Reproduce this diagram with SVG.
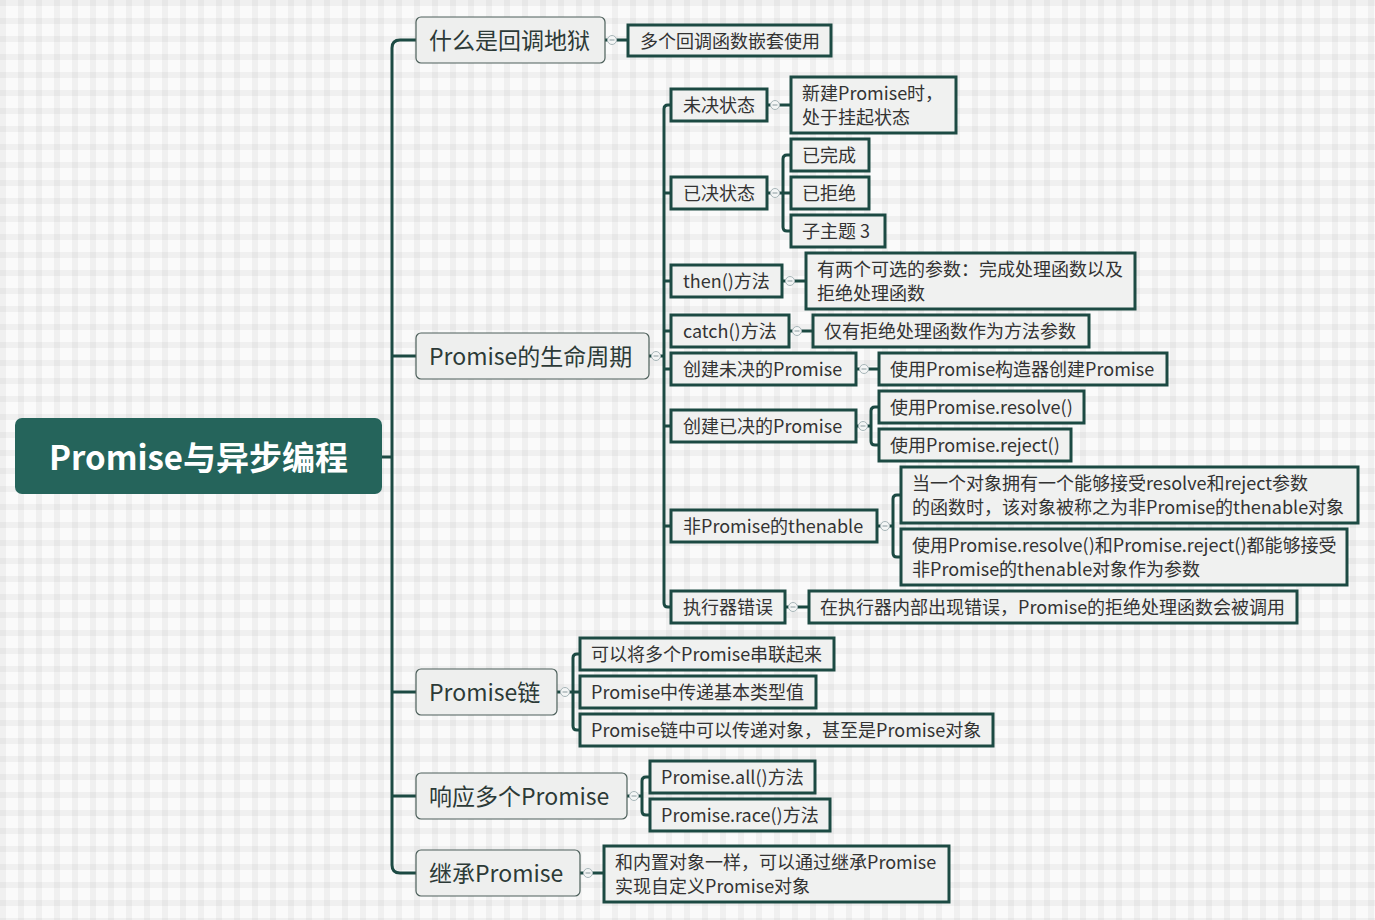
<svg xmlns="http://www.w3.org/2000/svg" width="1375" height="920" viewBox="0 0 1375 920">
<defs>
<pattern id="bg" x="0" y="0" width="18" height="18" patternUnits="userSpaceOnUse">
<rect width="18" height="18" fill="#fafafa"/>
<rect x="0" y="0" width="6" height="18" fill="#000" fill-opacity="0.04"/>
<rect x="0" y="0" width="18" height="6" fill="#000" fill-opacity="0.04"/>
</pattern>
</defs>
<style>
.root rect{fill:#25645b}
.root text{fill:#ffffff;font-family:"Noto Sans CJK SC","Noto Sans",sans-serif;font-size:33px;font-weight:bold}
.l1 rect{fill:#eeefee;stroke:#4c5f5a;stroke-width:1.2}
.l1 text{fill:#2c3a37;font-family:"Noto Sans CJK SC","Noto Sans",sans-serif;font-size:23px}
.l2 rect{fill:#f0f1f0;stroke:#1c4a43;stroke-width:3}
.l2 text{fill:#333;font-family:"Noto Sans CJK SC","Noto Sans",sans-serif;font-size:18px}
.conn path{fill:none;stroke:#1c4a43;stroke-width:3}
.tog circle{fill:#f4f6f6;stroke:#a7b5b8;stroke-width:1}
.tog path{stroke:#8a9a9e;stroke-width:1;fill:none}
</style>
<rect width="1375" height="920" fill="url(#bg)"/>

<g id="connectors" class="conn">
<path d="M382,457 H392"/>
<path d="M416,40 H400 Q392,40 392,48 V865 Q392,873 400,873 H416"/>
<path d="M392,356 H416"/>
<path d="M392,692 H416"/>
<path d="M392,796 H416"/>
<path d="M605,40 H628"/>
<path d="M649,356 H664"/>
<path d="M671,105 H668 Q664,105 664,109 V603 Q664,607 668,607 H671"/>
<path d="M664,193 H671 M664,281 H671 M664,331 H671 M664,369 H671 M664,426 H671 M664,526 H671"/>
<path d="M767,105 H791"/>
<path d="M767,193 H791"/>
<path d="M791,155 H787 Q783,155 783,159 V227 Q783,231 787,231 H791"/>
<path d="M782,281 H806"/>
<path d="M789,331 H813"/>
<path d="M856,369 H879"/>
<path d="M856,426 H871"/>
<path d="M879,407 H875 Q871,407 871,411 V441 Q871,445 875,445 H879"/>
<path d="M877,526 H893"/>
<path d="M901,495 H897 Q893,495 893,499 V553 Q893,557 897,557 H901"/>
<path d="M785,607 H809"/>
<path d="M557,692 H580"/>
<path d="M580,654 H577 Q573,654 573,658 V726 Q573,730 577,730 H580"/>
<path d="M627,796 H642"/>
<path d="M650,777 H646 Q642,777 642,781 V811 Q642,815 646,815 H650"/>
<path d="M580,873 H604"/>
</g>

<g id="toggles" class="tog">
<circle cx="612" cy="40" r="4.5"/><path d="M609.5,40 H614.5"/>
<circle cx="656" cy="356" r="4.5"/><path d="M653.5,356 H658.5"/>
<circle cx="775" cy="105" r="4.5"/><path d="M772.5,105 H777.5"/>
<circle cx="775" cy="193" r="4.5"/><path d="M772.5,193 H777.5"/>
<circle cx="790" cy="281" r="4.5"/><path d="M787.5,281 H792.5"/>
<circle cx="797" cy="331" r="4.5"/><path d="M794.5,331 H799.5"/>
<circle cx="864" cy="369" r="4.5"/><path d="M861.5,369 H866.5"/>
<circle cx="863" cy="426" r="4.5"/><path d="M860.5,426 H865.5"/>
<circle cx="885" cy="526" r="4.5"/><path d="M882.5,526 H887.5"/>
<circle cx="793" cy="607" r="4.5"/><path d="M790.5,607 H795.5"/>
<circle cx="565" cy="692" r="4.5"/><path d="M562.5,692 H567.5"/>
<circle cx="634" cy="796" r="4.5"/><path d="M631.5,796 H636.5"/>
<circle cx="588" cy="873" r="4.5"/><path d="M585.5,873 H590.5"/>
</g>

<g id="root" class="root"><rect x="15" y="418" width="367" height="76" rx="7"/><text x="198.5" y="456" text-anchor="middle" dominant-baseline="central">Promise与异步编程</text></g>

<g id="n-callback-hell" class="l1"><rect x="416" y="17" width="189" height="46" rx="5"/><text x="429" y="39" dominant-baseline="central">什么是回调地狱</text></g>
<g id="n-lifecycle" class="l1"><rect x="416" y="333" width="233" height="46" rx="5"/><text x="429" y="355" dominant-baseline="central">Promise的生命周期</text></g>
<g id="n-chain" class="l1"><rect x="416" y="669" width="141" height="46" rx="5"/><text x="429" y="691" dominant-baseline="central">Promise链</text></g>
<g id="n-multi" class="l1"><rect x="416" y="773" width="211" height="46" rx="5"/><text x="429" y="795" dominant-baseline="central">响应多个Promise</text></g>
<g id="n-inherit" class="l1"><rect x="416" y="850" width="164" height="46" rx="5"/><text x="429" y="872" dominant-baseline="central">继承Promise</text></g>

<g id="n-nested" class="l2"><rect x="628" y="25" width="203" height="31"/><text x="640" y="39.5" dominant-baseline="central">多个回调函数嵌套使用</text></g>

<g id="n-pending" class="l2"><rect x="671" y="89" width="96" height="32"/><text x="683" y="104" dominant-baseline="central">未决状态</text></g>
<g id="n-pending-desc" class="l2"><rect x="791" y="77" width="165" height="56"/><text x="802" y="92" dominant-baseline="central">新建Promise时，</text><text x="802" y="116" dominant-baseline="central">处于挂起状态</text></g>
<g id="n-settled" class="l2"><rect x="671" y="177" width="96" height="32"/><text x="683" y="192" dominant-baseline="central">已决状态</text></g>
<g id="n-fulfilled" class="l2"><rect x="791" y="139" width="78" height="32"/><text x="802" y="154" dominant-baseline="central">已完成</text></g>
<g id="n-rejected" class="l2"><rect x="791" y="177" width="78" height="32"/><text x="802" y="192" dominant-baseline="central">已拒绝</text></g>
<g id="n-topic3" class="l2"><rect x="791" y="215" width="94" height="32"/><text x="802" y="230" dominant-baseline="central">子主题 3</text></g>
<g id="n-then" class="l2"><rect x="671" y="265" width="111" height="32"/><text x="683" y="280" dominant-baseline="central">then()方法</text></g>
<g id="n-then-desc" class="l2"><rect x="806" y="253" width="329" height="56"/><text x="817" y="268" dominant-baseline="central">有两个可选的参数：完成处理函数以及</text><text x="817" y="292" dominant-baseline="central">拒绝处理函数</text></g>
<g id="n-catch" class="l2"><rect x="671" y="315" width="118" height="32"/><text x="683" y="330" dominant-baseline="central">catch()方法</text></g>
<g id="n-catch-desc" class="l2"><rect x="813" y="315" width="276" height="32"/><text x="824" y="330" dominant-baseline="central">仅有拒绝处理函数作为方法参数</text></g>
<g id="n-create-pending" class="l2"><rect x="671" y="353" width="185" height="32"/><text x="683" y="368" dominant-baseline="central">创建未决的Promise</text></g>
<g id="n-constructor" class="l2"><rect x="879" y="353" width="288" height="32"/><text x="890" y="368" dominant-baseline="central">使用Promise构造器创建Promise</text></g>
<g id="n-create-settled" class="l2"><rect x="671" y="410" width="185" height="32"/><text x="683" y="425" dominant-baseline="central">创建已决的Promise</text></g>
<g id="n-resolve" class="l2"><rect x="879" y="391" width="205" height="32"/><text x="890" y="406" dominant-baseline="central">使用Promise.resolve()</text></g>
<g id="n-reject" class="l2"><rect x="879" y="429" width="192" height="32"/><text x="890" y="444" dominant-baseline="central">使用Promise.reject()</text></g>
<g id="n-thenable" class="l2"><rect x="671" y="510" width="206" height="32"/><text x="683" y="525" dominant-baseline="central">非Promise的thenable</text></g>
<g id="n-thenable-def" class="l2"><rect x="901" y="467" width="457" height="56"/><text x="912" y="482" dominant-baseline="central">当一个对象拥有一个能够接受resolve和reject参数</text><text x="912" y="506" dominant-baseline="central">的函数时，该对象被称之为非Promise的thenable对象</text></g>
<g id="n-thenable-use" class="l2"><rect x="901" y="529" width="446" height="56"/><text x="912" y="544" dominant-baseline="central">使用Promise.resolve()和Promise.reject()都能够接受</text><text x="912" y="568" dominant-baseline="central">非Promise的thenable对象作为参数</text></g>
<g id="n-executor-error" class="l2"><rect x="671" y="591" width="114" height="32"/><text x="683" y="606" dominant-baseline="central">执行器错误</text></g>
<g id="n-executor-desc" class="l2"><rect x="809" y="591" width="488" height="32"/><text x="820" y="606" dominant-baseline="central">在执行器内部出现错误，Promise的拒绝处理函数会被调用</text></g>

<g id="n-chain-1" class="l2"><rect x="580" y="638" width="254" height="32"/><text x="591" y="653" dominant-baseline="central">可以将多个Promise串联起来</text></g>
<g id="n-chain-2" class="l2"><rect x="580" y="676" width="236" height="32"/><text x="591" y="691" dominant-baseline="central">Promise中传递基本类型值</text></g>
<g id="n-chain-3" class="l2"><rect x="580" y="714" width="413" height="32"/><text x="591" y="729" dominant-baseline="central">Promise链中可以传递对象，甚至是Promise对象</text></g>

<g id="n-all" class="l2"><rect x="650" y="761" width="165" height="32"/><text x="661" y="776" dominant-baseline="central">Promise.all()方法</text></g>
<g id="n-race" class="l2"><rect x="650" y="799" width="180" height="32"/><text x="661" y="814" dominant-baseline="central">Promise.race()方法</text></g>

<g id="n-inherit-desc" class="l2"><rect x="604" y="846" width="345" height="56"/><text x="615" y="861" dominant-baseline="central">和内置对象一样，可以通过继承Promise</text><text x="615" y="885" dominant-baseline="central">实现自定义Promise对象</text></g>
</svg>
